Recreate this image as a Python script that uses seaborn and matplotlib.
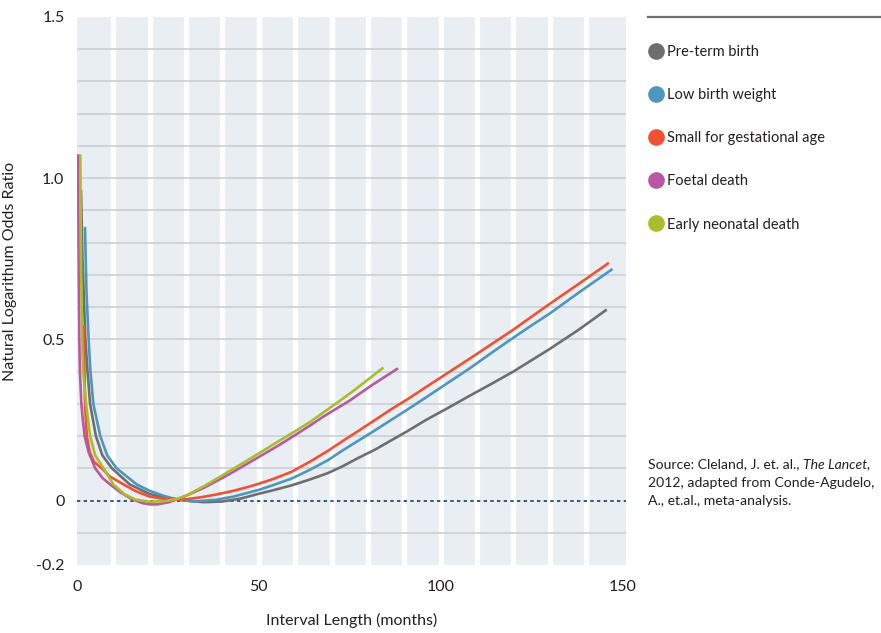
import matplotlib
matplotlib.use("Agg")
import matplotlib.pyplot as plt
from matplotlib.lines import Line2D
import seaborn as sns
import pandas as pd

plt.rcParams["font.family"] = ["Lato", "DejaVu Sans"]

# Outcome curves: interpregnancy interval (months) vs. log odds ratio
preterm_x = [1.1, 1.5, 2.3, 2.9, 3.6, 5.2, 7.0, 9.6, 14.5, 20, 24, 27.3, 31, 35, 40, 45, 50, 54, 59, 64, 69, 73, 77,
             82, 86, 91, 96, 102, 108, 114, 120, 125, 130, 138, 145.4]
preterm_y = [0.96, 0.75, 0.50, 0.40, 0.30, 0.20, 0.14, 0.10, 0.05, 0.02, 0.01, 0.004, -0.002, -0.005, -0.003, 0.006,
             0.021, 0.032, 0.047, 0.065, 0.085, 0.106, 0.13, 0.158, 0.184, 0.216, 0.25, 0.287, 0.325, 0.362, 0.40,
             0.435, 0.47, 0.53, 0.59]

lbw_x = [2.2, 2.6, 3.2, 3.7, 4.5, 6.4, 8.3, 10.9, 16.4, 20, 24, 27.3, 30, 33, 38, 43, 50, 54, 59, 64, 69, 73, 77,
         82, 86, 91, 96, 102, 108, 114, 120, 125, 130, 138, 147]
lbw_y = [0.845, 0.65, 0.50, 0.40, 0.30, 0.20, 0.14, 0.10, 0.05, 0.03, 0.014, 0.004, 0.0, -0.002, 0.002, 0.012,
         0.033, 0.048, 0.068, 0.095, 0.125, 0.155, 0.183, 0.218, 0.247, 0.283, 0.32, 0.365, 0.41, 0.458, 0.505,
         0.543, 0.58, 0.645, 0.716]

sga_x = [1.9, 2.0, 2.1, 2.2, 2.7, 3.5, 4.7, 6.8, 9, 12.8, 16, 20, 24, 27.3, 30, 34, 38, 43, 47, 50, 54, 59, 64, 69,
         73, 77, 82, 86, 91, 96, 102, 108, 114, 120, 125, 130, 138, 146]
sga_y = [0.54, 0.45, 0.38, 0.30, 0.20, 0.15, 0.12, 0.10, 0.075, 0.05, 0.03, 0.012, 0.005, 0.003, 0.004, 0.01, 0.018,
         0.03, 0.042, 0.052, 0.067, 0.089, 0.12, 0.154, 0.184, 0.213, 0.25, 0.28, 0.315, 0.352, 0.396, 0.44, 0.485,
         0.53, 0.57, 0.61, 0.672, 0.735]

foetal_x = [0.3, 0.45, 0.63, 0.8, 1.2, 1.6, 2.1, 3.2, 5.0, 7, 9.1, 12, 15, 18, 20, 22, 25, 27.3, 30, 35, 40, 45, 50,
            55, 59, 64, 68, 75, 81, 88]
foetal_y = [1.07, 0.75, 0.50, 0.40, 0.30, 0.25, 0.20, 0.15, 0.10, 0.07, 0.05, 0.025, 0.005, -0.008, -0.012, -0.012,
            -0.006, 0.003, 0.015, 0.04, 0.07, 0.102, 0.135, 0.168, 0.196, 0.232, 0.262, 0.31, 0.357, 0.408]

neonatal_x = [0.9, 1.1, 1.4, 1.7, 2.5, 3.6, 5.0, 7.3, 10, 13, 16, 20, 24, 27.3, 30, 35, 40, 45, 50, 55, 59, 64, 68,
              72, 76, 80, 84]
neonatal_y = [1.07, 0.75, 0.50, 0.40, 0.30, 0.20, 0.14, 0.10, 0.05, 0.02, 0.003, -0.004, -0.002, 0.004, 0.015,
              0.045, 0.078, 0.112, 0.146, 0.181, 0.208, 0.243, 0.275, 0.307, 0.34, 0.375, 0.41]

series_names = ["Pre-term birth", "Low birth weight", "Small for gestational age",
                "Foetal death", "Early neonatal death"]
series_colors = ["#6d6e71", "#4e96bb", "#f05133", "#b957a5", "#a9bd2b"]
series_x = [preterm_x, lbw_x, sga_x, foetal_x, neonatal_x]
series_y = [preterm_y, lbw_y, sga_y, foetal_y, neonatal_y]

x_ticks = [0, 50, 100, 150]
y_ticks = [-0.2, 0, 0.5, 1.0, 1.5]
y_tick_labels = ["-0.2", "0", "0.5", "1.0", "1.5"]

frames = []
for name, xs, ys in zip(series_names, series_x, series_y):
    frames.append(pd.DataFrame({"interval": xs, "logodds": ys, "outcome": name}))
df = pd.concat(frames, ignore_index=True)

fig = plt.figure(figsize=(8.81, 6.33), dpi=100)
ax = fig.add_axes([77 / 881, 1 - 565 / 633, (626 - 77) / 881, (565 - 17) / 633])
ax.set_facecolor("#e9eef2")
for s in ax.spines.values():
    s.set_visible(False)

# white vertical bands every 10 months
for xv in range(10, 150, 10):
    ax.axvline(xv, color="white", lw=3.8, zorder=1)
# light horizontal rules every 0.1
for i in range(-1, 15):
    if i == 0:
        continue
    ax.axhline(i / 10, color="#cbd2d8", lw=1.3, zorder=1.5)
ax.axhline(0, color="#1d3c5c", lw=1.2, linestyle=(0, (2, 2)), zorder=1.6)

sns.lineplot(data=df, x="interval", y="logodds", hue="outcome",
             hue_order=series_names, palette=series_colors,
             estimator=None, sort=False, lw=1.9, legend=False, ax=ax, zorder=3)

ax.set_xlim(0, 151)
ax.set_ylim(-0.2, 1.5)
ax.set_xticks(x_ticks)
ax.set_yticks(y_ticks)
ax.set_yticklabels(y_tick_labels)
ax.tick_params(length=0, labelsize=11.5, colors="#231f20")
ax.tick_params(axis="y", pad=9)
ax.tick_params(axis="x", pad=11)
ax.set_xlabel("Interval Length (months)", fontsize=11.5, color="#231f20")
ax.set_ylabel("Natural Logarithum Odds Ratio", fontsize=11.5, color="#231f20")
ax.xaxis.set_label_coords(0.5, -0.087)
ax.yaxis.set_label_coords(-0.109, 0.535)

# legend panel on the right
fig.add_artist(Line2D([648 / 881, 880 / 881], [1 - 17 / 633, 1 - 17 / 633],
                      color="#6d6e71", lw=1.6, transform=fig.transFigure))
handles = [Line2D([], [], marker="o", linestyle="", markersize=11,
                  markerfacecolor=c, markeredgecolor=c) for c in series_colors]
fig.legend(handles, series_names, loc="upper left",
           bbox_to_anchor=(641 / 881, 1 - 39 / 633), frameon=False,
           fontsize=10.5, labelspacing=2.0, handletextpad=0.15,
           handlelength=1.2, borderaxespad=0, labelcolor="#231f20")

# source note, with the journal title in italics
src_kw = dict(fontsize=10.1, color="#231f20", ha="left", va="bottom")
t1 = fig.text(648 / 881, 1 - 470 / 633, "Source: Cleland, J. et. al., ", **src_kw)
ax.annotate("The Lancet,", xy=(1, 0), xycoords=t1, style="italic",
            annotation_clip=False, **src_kw)
fig.text(648 / 881, 1 - 489 / 633, "2012, adapted from Conde-Agudelo,", **src_kw)
fig.text(648 / 881, 1 - 507 / 633, "A., et.al., meta-analysis.", **src_kw)

fig.savefig("out.png", dpi=100, facecolor="white")
